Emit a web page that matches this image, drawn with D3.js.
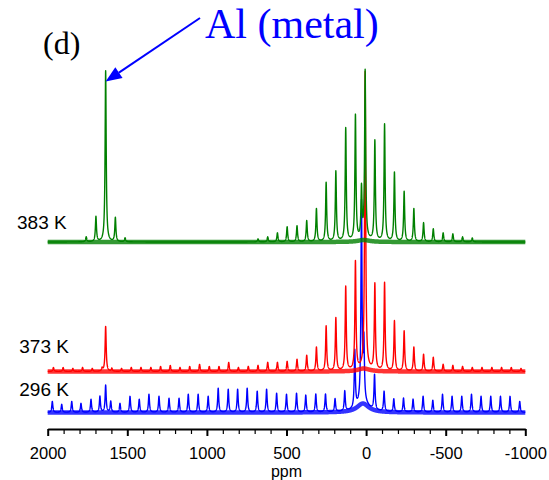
<!DOCTYPE html>
<html>
<head>
<meta charset="utf-8">
<script src="https://cdn.jsdelivr.net/npm/d3@7"></script>
<style>
  body { margin: 0; background: #fff; }
  svg { display: block; }
</style>
</head>
<body>
<svg id="chart" width="549" height="480"></svg>
<script>
// 27Al MAS NMR spectra at three temperatures (intensities in arbitrary units)

// axis ticks
const majorTicks = [2000, 1500, 1000, 500, 0, -500, -1000];
const majorTickLabels = ["2000", "1500", "1000", "500", "0", "-500", "-1000"];
const minorTicks = [1900, 1800, 1700, 1600, 1400, 1300, 1200, 1100, 900, 800, 700, 600,
                    400, 300, 200, 100, -100, -200, -300, -400, -600, -700, -800, -900];

// trace labels and vertical offsets
const traceLabels = ["296 K", "373 K", "383 K"];
const traceOffsets = [17.5, 58.5, 188];

// 296 K: spinning sidebands (ppm, height)
const ppm296 = [1971, 1912, 1849, 1791, 1728, 1672, 1604, 1546, 1483, 1425, 1364, 1301, 1238, 1175,
                1117, 1055, 992, 929, 866, 807, 747, 684, 625, 562, 500, 437, 379, 316, 255, 195,
                134, 71, -53, -113, -174, -235, -295, -358, -419, -480, -540, -601, -662, -722,
                -783, -844, -904, -965];
const height296 = [11, 8, 11, 9, 13, 16, 11, 9, 16, 13, 18, 16, 14, 14,
                   18, 18, 16, 24, 23, 23, 24, 21, 23, 19, 18, 19, 17, 18, 18, 13,
                   20, 57, 35, 20, 13, 14, 13, 16, 12, 18, 16, 16, 18, 16,
                   16, 16, 16, 11];
// 296 K: metal line and central lines
const mainPpm296 = [1636, 29, 14];
const mainHeight296 = [27, 200, 58];
const broadPpm296 = [20];
const broadHeight296 = [9];

// 373 K: spinning sidebands
const ppm373 = [1964, 1903, 1842, 1781, 1720, 1658, 1597, 1536, 1475, 1414,
                1352, 1291, 1230, 1169, 1108, 1046, 985, 924, 863, 802,
                740, 679, 618, 557, 496, 434, 373, 312, 251, 190,
                128, 67, 6, -55, -116, -178, -239, -300, -361, -422,
                -484, -545, -606, -667, -728, -790, -851, -912, -973];
const height373 = [4, 4, 3, 4, 3, 3, 3, 3, 4, 4,
                   4, 5, 6, 4, 5, 7, 5, 5, 9, 4,
                   5, 6, 9, 9, 10, 12, 16, 24, 45, 53,
                   84, 108, 296, 86, 88, 50, 40, 24, 17, 14,
                   7, 6, 5, 4, 4, 4, 4, 4, 3];
const mainPpm373 = [1636];
const mainHeight373 = [45];
const broadPpm373 = [15];
const broadHeight373 = [3];

// 383 K: spinning sidebands
const ppm383 = [679, 618, 557, 496, 434, 373, 312, 251, 190, 128, 67, 6,
                -55, -116, -178, -239, -300, -361, -422, -484, -545, -606, -667];
const height383 = [3, 5, 9, 15, 16, 21, 33, 59, 70, 113, 125, 168,
                   100, 117, 69, 50, 33, 19, 13, 9, 8, 5, 4];
// 383 K: Al metal line with its sidebands, plus a second central line
const mainPpm383 = [1758, 1697, 1636, 1575, 1514, 29];
const mainHeight383 = [5, 25, 171, 24, 4, 50];
const broadPpm383 = [15];
const broadHeight383 = [2];

const traceColors = ["#0000ff", "#ff0000", "#008000"];

const traces = [
  { peaks: [ppm296.concat(mainPpm296), height296.concat(mainHeight296)], broad: [broadPpm296, broadHeight296] },
  { peaks: [ppm373.concat(mainPpm373), height373.concat(mainHeight373)], broad: [broadPpm373, broadHeight373] },
  { peaks: [ppm383.concat(mainPpm383), height383.concat(mainHeight383)], broad: [broadPpm383, broadHeight383] }
];

const svg = d3.select("#chart");
const x = d3.scaleLinear().domain([2000, -1000]).range([47.7, 525.3]);
const y = d3.scaleLinear().domain([0, 360]).range([430, 70]);

const lorentz = (p, c, h, w) => h * (w * w) / ((p - c) * (p - c) + w * w);
const sampleGrid = d3.range(2000, -1000.01, -0.5);

function buildTrace(t, offset) {
  const [pp, ph] = t.peaks;
  const [bp, bh] = t.broad;
  return sampleGrid.map(p => {
    let base = offset;
    for (let i = 0; i < bp.length; i++) base += lorentz(p, bp[i], bh[i], 45);
    let v = base;
    for (let i = 0; i < pp.length; i++) v += lorentz(p, pp[i], ph[i], 4);
    return { ppm: p, base, v };
  });
}

const line = d3.line().x(d => x(d.ppm)).y(d => y(d.v));
const baseLine = d3.line().x(d => x(d.ppm)).y(d => y(d.base));

const traceG = svg.append("g");
traces.forEach((t, i) => {
  const pts = buildTrace(t, traceOffsets[i]);
  const g = traceG.append("g");
  // noise band along the baseline
  g.append("path").datum(pts).attr("d", baseLine)
    .attr("fill", "none").attr("stroke", traceColors[i])
    .attr("stroke-width", 4.5).attr("stroke-opacity", 0.8);
  g.append("path").datum(pts).attr("d", line)
    .attr("fill", "none").attr("stroke", traceColors[i])
    .attr("stroke-width", 1.4).attr("stroke-linejoin", "round");
});

// temperature labels
const labelPos = [[19.3, 395.7], [19.3, 353.3], [17, 229]];
traceLabels.forEach((lab, i) => {
  svg.append("text").attr("x", labelPos[i][0]).attr("y", labelPos[i][1])
    .attr("font-family", "Liberation Sans, Arial, sans-serif").attr("font-size", 19)
    .attr("fill", "#000").text(lab);
});

// x axis
const axisY = 429;
const minorAxis = d3.axisBottom(x).tickValues(minorTicks).tickSize(5).tickSizeOuter(0).tickFormat("");
const gMinor = svg.append("g").attr("transform", `translate(0,${axisY})`).call(minorAxis);
gMinor.select(".domain").remove();
gMinor.selectAll(".tick line").attr("stroke", "#000").attr("stroke-width", 1.2);

const majorAxis = d3.axisBottom(x).tickValues(majorTicks).tickSize(7).tickSizeOuter(0)
  .tickFormat((d, i) => majorTickLabels[i]);
const gMajor = svg.append("g").attr("transform", `translate(0,${axisY})`).call(majorAxis);
gMajor.select(".domain").attr("stroke", "#000").attr("stroke-width", 2);
gMajor.selectAll(".tick line").attr("stroke", "#000").attr("stroke-width", 2);
gMajor.selectAll(".tick text")
  .attr("y", 30).attr("dy", 0)
  .attr("font-family", "Liberation Sans, Arial, sans-serif").attr("font-size", 16.5)
  .attr("fill", "#000");

svg.append("text").attr("x", (x(2000) + x(-1000)) / 2).attr("y", 477)
  .attr("text-anchor", "middle")
  .attr("font-family", "Liberation Sans, Arial, sans-serif").attr("font-size", 16)
  .text("ppm");

// panel letter
svg.append("text").attr("x", 43).attr("y", 54)
  .attr("font-family", "Liberation Serif, Times New Roman, serif").attr("font-size", 32)
  .text("(d)");

// annotation for the metal line
svg.append("text").attr("x", 205).attr("y", 38)
  .attr("font-family", "Liberation Serif, Times New Roman, serif").attr("font-size", 42)
  .attr("fill", "#0000ff").text("Al (metal)");

const tip = [x(1636), 81.5];
const tail = [200, 18];
const ang = Math.atan2(tip[1] - tail[1], tip[0] - tail[0]);
const headLen = 16, headHalf = 6.5;
const bx = tip[0] - headLen * Math.cos(ang), by = tip[1] - headLen * Math.sin(ang);
svg.append("line").attr("x1", tail[0]).attr("y1", tail[1]).attr("x2", bx).attr("y2", by)
  .attr("stroke", "#0000ff").attr("stroke-width", 2);
svg.append("path")
  .attr("d", `M${tip[0]},${tip[1]} L${bx + headHalf * Math.sin(ang)},${by - headHalf * Math.cos(ang)} L${bx - headHalf * Math.sin(ang)},${by + headHalf * Math.cos(ang)} Z`)
  .attr("fill", "#0000ff");
</script>
</body>
</html>
